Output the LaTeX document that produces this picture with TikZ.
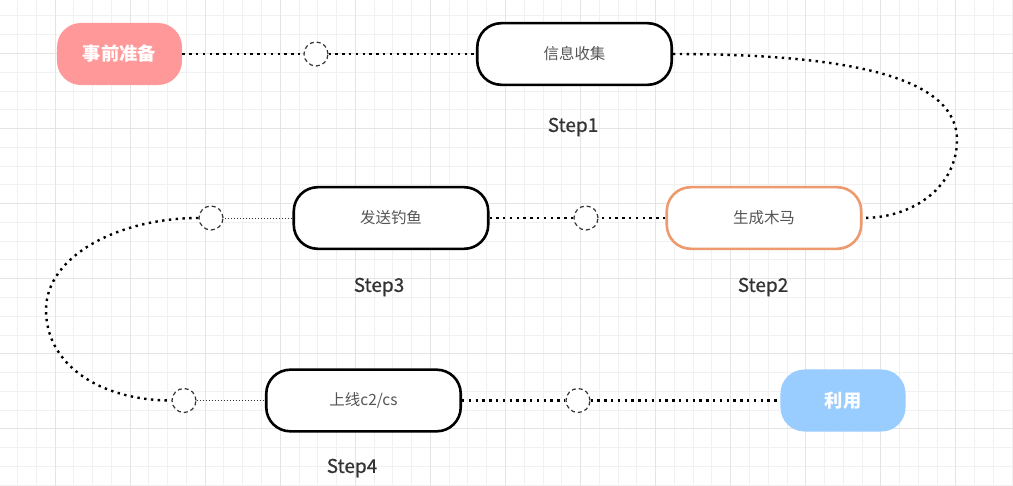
\documentclass[tikz,border=0pt]{standalone}
\usepackage{fontspec}
\setmainfont{Noto Sans CJK SC}
\newfontfamily\stepfont[FakeBold=0.6]{Noto Sans CJK SC}
\usetikzlibrary{positioning}
\definecolor{prepred}{HTML}{FF9999}
\definecolor{useblue}{HTML}{99CCFF}
\definecolor{trojanorange}{HTML}{EE9A6E}
\definecolor{boxtext}{HTML}{555555}
\definecolor{steptext}{HTML}{333333}
\definecolor{holegray}{HTML}{333333}
\definecolor{gridminor}{HTML}{F1F1F1}
\definecolor{gridmajor}{HTML}{E4E4E4}
\tikzstyle{stage}=[rectangle,draw,line width=0.065cm,rounded corners=0.6cm,fill=white,align=center,minimum width=4.86cm,minimum height=1.54cm,text=boxtext,font=\fontsize{11}{13}\selectfont]
\tikzstyle{term}=[rectangle,rounded corners=0.6cm,align=center,minimum width=3.125cm,minimum height=1.55cm,text=white,font=\fontsize{13}{15}\selectfont\bfseries]
\tikzstyle{hole}=[circle,draw=holegray,fill=white,line width=0.03cm,dash pattern=on 0.1cm off 0.075cm,minimum size=0.6cm,inner sep=0pt]
\tikzstyle{steplbl}=[text=steptext,font=\fontsize{13.5}{16}\stepfont]
\tikzstyle{link}=[line width=0.06cm,dash pattern=on 0.06cm off 0.11cm]
\tikzstyle{thinlink}=[line width=0.025cm,dash pattern=on 0.025cm off 0.05cm,draw=holegray]

\begin{document}
\begin{tikzpicture}[x=0.025cm,y=-0.025cm]
\useasboundingbox[fill=white] (0,0) rectangle (1013,486);
% background grid
\foreach \k in {-3,...,51}
  \draw[gridminor,line width=0.025cm] ({55+\k*18.77},0) -- ({55+\k*18.77},486);
\foreach \k in {-3,...,23}
  \draw[gridminor,line width=0.025cm] (0,{53.5+\k*18.77}) -- (1013,{53.5+\k*18.77});
\foreach \k in {-1,...,12}
  \draw[gridmajor,line width=0.025cm] ({55+\k*75.07},0) -- ({55+\k*75.07},486);
\foreach \k in {-1,...,6}
  \draw[gridmajor,line width=0.025cm] (0,{53.5+\k*75.07}) -- (1013,{53.5+\k*75.07});

% stages
\node[term, fill=prepred] (prep) at (119.5,54) {事前准备};
\node[hole] (h1) at (316,54) {};
\node[stage] (info) at (574.5,54) {信息收集};
\node[stage, draw=trojanorange] (trojan) at (764,218) {生成木马};
\node[hole] (h2) at (586,218) {};
\node[stage] (phish) at (391,218) {发送钓鱼};
\node[hole] (h3) at (211,218) {};
\node[hole] (h4) at (184,400.5) {};
\node[stage] (online) at (363.5,400.5) {上线c2/cs};
\node[hole] (h5) at (578,400.5) {};
\node[term, fill=useblue] (use) at (843,400.5) {利用};

% step labels
\node[steplbl] (s1) at (573,127) {Step1};
\node[steplbl] (s2) at (763,287) {Step2};
\node[steplbl] (s3) at (379,287) {Step3};
\node[steplbl] (s4) at (352,468) {Step4};

% connectors
\coordinate (rbend) at (957,140);
\coordinate (lbend) at (46,310);
\draw[link] (prep) -- (h1);
\draw[link] (h1) -- (info);
\draw[link] (info.east) .. controls +(187,0) and +(0,-60) .. (rbend) .. controls +(0,45) and +(53,0) .. (trojan.east);
\draw[link] (trojan) -- (h2);
\draw[link] (h2) -- (phish);
\draw[thinlink] (phish) -- (h3);
\draw[link] (h3.west) .. controls +(-78,0) and +(0,-55) .. (lbend) .. controls +(0,55) and +(-71,0) .. (h4.west);
\draw[thinlink] (h4) -- (online);
\draw[link] (online) -- (h5);
\draw[link] (h5) -- (use);
\end{tikzpicture}
\end{document}
